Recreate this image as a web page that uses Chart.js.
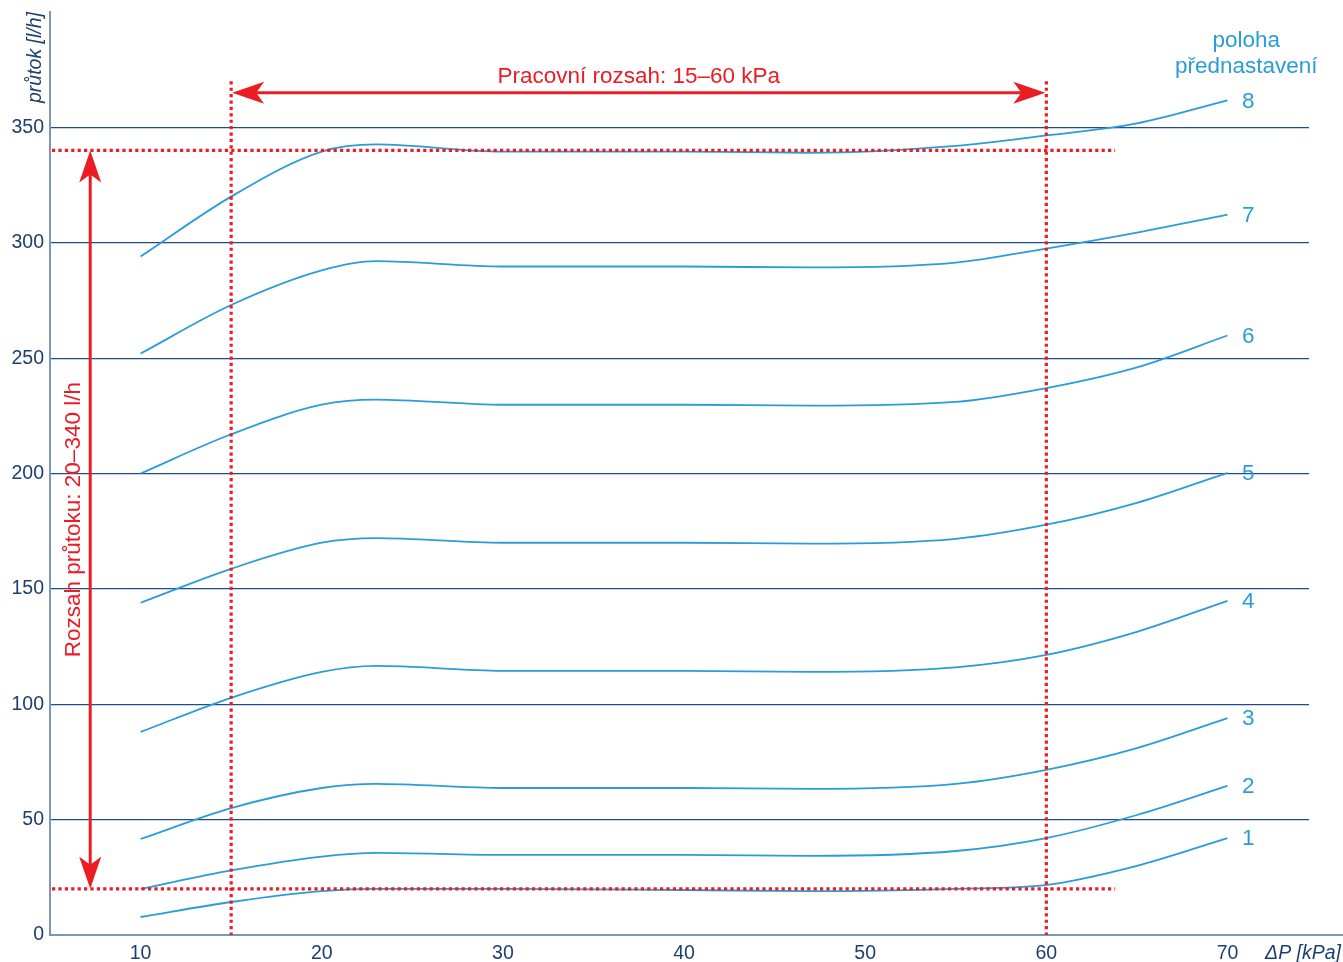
<!DOCTYPE html>
<html>
<head>
<meta charset="utf-8">
<script src="https://cdn.jsdelivr.net/npm/chart.js@4"></script>
<style>
html,body{margin:0;padding:0;background:#fff;}
#wrap{width:1343px;height:962px;position:relative;}
</style>
</head>
<body>
<div id="wrap"><canvas id="c"></canvas></div>
<script>
const xValues = [10, 15, 20, 23, 30, 40, 47, 55, 60, 65, 70];
const curve1 = [7.8, 14.3, 19, 20, 20, 19.5, 19, 20, 21.7, 30, 42];
const curve2 = [20, 28, 34, 35.6, 34.7, 34.7, 34.3, 36.4, 42, 52, 64.6];
const curve3 = [41.6, 55, 63.7, 65.5, 63.7, 63.7, 63.3, 65.5, 71.6, 81, 94];
const curve4 = [88, 102.8, 114, 116.6, 114.5, 114.5, 114, 116, 121.4, 131.4, 144.8];
const curve5 = [144, 158.7, 170, 172, 170, 170, 169.6, 171.7, 177.8, 187.3, 200.3];
const curve6 = [200, 217, 229.8, 232, 229.8, 229.8, 229.4, 231, 237, 246, 259.8];
const curve7 = [252, 273, 288, 292, 289.7, 289.7, 289.3, 291.4, 297.5, 304.4, 312.2];
const curve8 = [294, 320, 339.5, 342.6, 339.5, 339.5, 339, 342, 346.5, 351.7, 361.7];
const curveNames = ["1", "2", "3", "4", "5", "6", "7", "8"];
const xTickLabels = [10, 20, 30, 40, 50, 60, 70];
const yTickLabels = [0, 50, 100, 150, 200, 250, 300, 350];
const workRange = [15, 60];      // kPa
const flowRange = [20, 340];     // l/h
const workRangeText = "Pracovní rozsah: 15–60 kPa";
const flowRangeText = "Rozsah průtoku: 20–340 l/h";
const legendTitle = ["poloha", "přednastavení"];
const yTitle = "průtok [l/h]";
const xTitle = "ΔP [kPa]";

const curves = [curve1, curve2, curve3, curve4, curve5, curve6, curve7, curve8];
const BLUE = "#2a9dd8";
const NAVY = "#1c3f70";
const RED = "#ec1c24";
const AXIS = "#7d96b6";
const FONT = "'Liberation Sans', Arial, sans-serif";

const datasets = curves.map((c, i) => ({
  label: curveNames[i],
  data: c.map((v, j) => ({x: xValues[j], y: v})),
  borderColor: BLUE,
  borderWidth: 1.8,
  pointRadius: 0,
  fill: false,
  cubicInterpolationMode: 'monotone'
}));

function arrowHead(ctx, x, y, dx, dy) {
  const len = 32, half = 11, notch = 8;
  const px = -dy, py = dx;
  ctx.beginPath();
  ctx.moveTo(x, y);
  ctx.lineTo(x - dx * len + px * half, y - dy * len + py * half);
  ctx.lineTo(x - dx * (len - notch), y - dy * (len - notch));
  ctx.lineTo(x - dx * len - px * half, y - dy * len - py * half);
  ctx.closePath();
  ctx.fill();
}

const annot = {
  id: 'annot',
  afterDatasetsDraw(chart) {
    const ctx = chart.ctx;
    const xs = chart.scales.x, ys = chart.scales.y;
    const ca = chart.chartArea;
    ctx.save();
    ctx.strokeStyle = AXIS; ctx.lineWidth = 2;
    ctx.beginPath(); ctx.moveTo(ca.right, ca.bottom); ctx.lineTo(chart.width, ca.bottom); ctx.stroke();

    ctx.strokeStyle = RED; ctx.lineWidth = 3.2; ctx.setLineDash([3.2, 3.2]);
    const topY = ys.getPixelForValue(370);
    workRange.forEach(v => {
      const x = xs.getPixelForValue(v);
      ctx.beginPath(); ctx.moveTo(x, topY); ctx.lineTo(x, ca.bottom); ctx.stroke();
    });
    const hEnd = xs.getPixelForValue(63.8);
    flowRange.forEach(v => {
      const y = ys.getPixelForValue(v);
      ctx.beginPath(); ctx.moveTo(ca.left + 2, y); ctx.lineTo(hEnd, y); ctx.stroke();
    });
    ctx.setLineDash([]);

    ctx.fillStyle = RED; ctx.strokeStyle = RED; ctx.lineWidth = 3;
    const ay = ys.getPixelForValue(365);
    const ax1 = xs.getPixelForValue(workRange[0]) + 1, ax2 = xs.getPixelForValue(workRange[1]) - 1;
    ctx.beginPath(); ctx.moveTo(ax1 + 20, ay); ctx.lineTo(ax2 - 20, ay); ctx.stroke();
    arrowHead(ctx, ax1, ay, -1, 0);
    arrowHead(ctx, ax2, ay, 1, 0);

    const vx = xs.getPixelForValue(7.22);
    const vy1 = ys.getPixelForValue(flowRange[1]), vy2 = ys.getPixelForValue(flowRange[0]);
    ctx.beginPath(); ctx.moveTo(vx, vy1 + 20); ctx.lineTo(vx, vy2 - 20); ctx.stroke();
    arrowHead(ctx, vx, vy1, 0, -1);
    arrowHead(ctx, vx, vy2, 0, 1);

    ctx.font = "22.5px " + FONT;
    ctx.textAlign = 'center'; ctx.textBaseline = 'middle';
    ctx.fillText(workRangeText, xs.getPixelForValue((workRange[0] + workRange[1]) / 2), ys.getPixelForValue(372));
    ctx.save();
    ctx.translate(xs.getPixelForValue(6.3), ys.getPixelForValue((flowRange[0] + flowRange[1]) / 2));
    ctx.rotate(-Math.PI / 2);
    ctx.fillText(flowRangeText, 0, 0);
    ctx.restore();

    ctx.fillStyle = BLUE;
    ctx.font = "22.5px " + FONT;
    const lx = xs.getPixelForValue(71.15);
    curves.forEach((c, i) => {
      ctx.fillText(curveNames[i], lx, ys.getPixelForValue(c[c.length - 1]) + 1);
    });
    ctx.fillText(legendTitle[0], lx - 2, 41);
    ctx.fillText(legendTitle[1], lx - 2, 67);

    ctx.fillStyle = NAVY;
    ctx.font = "italic 19.5px " + FONT;
    ctx.save();
    ctx.translate(36, ca.top);
    ctx.rotate(-Math.PI / 2);
    ctx.textAlign = 'right';
    ctx.fillText(yTitle, 0, 0);
    ctx.restore();
    ctx.textAlign = 'right';
    ctx.fillText(xTitle, chart.width - 2, 954);
    ctx.restore();
  }
};

new Chart(document.getElementById('c'), {
  type: 'line',
  data: {datasets},
  options: {
    responsive: true,
    maintainAspectRatio: false,
    animation: false,
    layout: {padding: {top: 12, right: 34, left: 0, bottom: 0}},
    plugins: {legend: {display: false}, tooltip: {enabled: false}},
    scales: {
      x: {
        type: 'linear', min: 5, max: 74.5,
        afterBuildTicks: s => { s.ticks = xTickLabels.map(v => ({value: v})); },
        afterFit: s => { s.height = 27; s.paddingLeft = 0; s.paddingRight = 0; },
        grid: {display: false, drawTicks: false},
        border: {display: true, color: AXIS, width: 2},
        ticks: {color: NAVY, font: {size: 19.5, family: FONT}, padding: 7, maxRotation: 0}
      },
      y: {
        type: 'linear', min: 0, max: 400,
        afterBuildTicks: s => { s.ticks = yTickLabels.map(v => ({value: v})); },
        afterFit: s => { s.width = 50; s.paddingTop = 0; s.paddingBottom = 0; },
        grid: {color: c => c.tick && c.tick.value === 0 ? 'rgba(0,0,0,0)' : '#1f4d8c', lineWidth: 1.2, drawTicks: false},
        border: {display: true, color: AXIS, width: 2},
        ticks: {color: NAVY, font: {size: 19.5, family: FONT}, padding: 6}
      }
    }
  },
  plugins: [annot]
});
</script>
</body>
</html>
